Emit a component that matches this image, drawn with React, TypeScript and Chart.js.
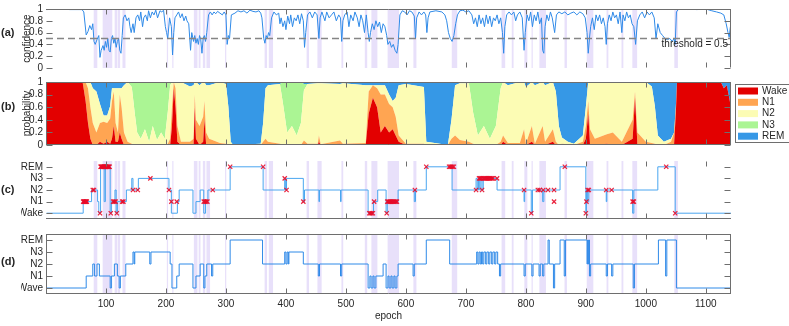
import React, { useEffect, useRef } from 'react';
import { Chart, registerables } from 'chart.js';

Chart.register(...registerables);

// ---------------- data ----------------
const X_MIN = 0;
const X_MAX = 1142;
const THRESHOLD = 0.5;
const xTickValues = [100, 200, 300, 400, 500, 600, 700, 800, 900, 1000, 1100];
const probTickValues = [0, 0.2, 0.4, 0.6, 0.8, 1];
const stageTickValues = [0, 1, 2, 3, 4];
const stageLabelsC = ['Wake', 'N1', 'N2', 'N3', 'REM'];
const stageLabelsD = ['Wave', 'N1', 'N2', 'N3', 'REM'];
const classNames = ['Wake', 'N1', 'N2', 'N3', 'REM'];

// low-confidence epoch intervals (shaded)
const uncertainStarts = [80, 95, 115, 120, 128, 202, 211, 247, 255, 262, 268, 299, 365, 372, 435, 453, 493, 532, 543, 570, 613, 677, 760, 777, 798, 810, 823, 865, 902, 935, 960, 978, 1048];
const uncertainEnds = [85, 110, 118, 123, 132, 203, 212, 252, 257, 265, 273, 300, 368, 378, 438, 459, 495, 535, 552, 588, 617, 685, 765, 779, 802, 811, 833, 868, 912, 937, 962, 985, 1053];

// (a) confidence
const confEpochs = [
  1, 20, 40, 60, 63, 67, 70, 73, 76, 78,
  80, 82, 85, 88, 90, 92, 95, 97, 99, 101,
  103, 105, 107, 109, 111, 113, 115, 117, 119, 121,
  123, 125, 127, 129, 132, 135, 138, 140, 142, 145,
  147, 150, 153, 156, 158, 161, 163, 166, 169, 171,
  174, 177, 180, 183, 186, 190, 193, 196, 199, 201,
  203, 206, 209, 211, 213, 215, 218, 221, 224, 227,
  230, 233, 235, 238, 241, 243, 246, 248, 250, 252,
  254, 256, 258, 260, 262, 264, 266, 268, 271, 274,
  277, 280, 283, 286, 290, 294, 297, 300, 302, 304,
  306, 309, 315, 320, 325, 330, 335, 340, 345, 350,
  355, 358, 360, 363, 365, 367, 369, 371, 373, 376,
  380, 384, 388, 390, 392, 395, 398, 400, 403, 406,
  408, 411, 414, 417, 420, 423, 426, 429, 431, 433,
  436, 440, 444, 448, 452, 455, 457, 460, 465, 468,
  472, 476, 480, 484, 488, 491, 493, 495, 498, 502,
  505, 508, 512, 515, 519, 522, 525, 528, 531, 534,
  537, 539, 541, 544, 547, 550, 553, 556, 559, 562,
  565, 568, 570, 573, 576, 579, 582, 585, 587, 590,
  594, 598, 602, 606, 610, 614, 616, 618, 622, 626,
  630, 633, 635, 637, 640, 650, 660, 665, 668, 671,
  674, 677, 680, 683, 686, 690, 695, 700, 705, 710,
  713, 716, 719, 722, 725, 728, 731, 734, 737, 740,
  743, 746, 749, 752, 755, 758, 761, 763, 765, 768,
  772, 776, 780, 783, 786, 790, 794, 797, 799, 802,
  805, 808, 811, 814, 817, 820, 823, 826, 828, 830,
  832, 835, 838, 841, 844, 848, 851, 855, 860, 865,
  870, 875, 880, 885, 890, 895, 899, 902, 904, 906,
  908, 911, 914, 917, 920, 923, 926, 929, 932, 934,
  936, 939, 942, 945, 948, 951, 954, 957, 960, 962,
  965, 968, 971, 974, 977, 980, 983, 986, 990, 994,
  998, 1002, 1006, 1010, 1014, 1017, 1020, 1024, 1028, 1032,
  1036, 1040, 1044, 1047, 1049, 1051, 1055, 1070, 1085, 1100,
  1110, 1118, 1125, 1130, 1134, 1137, 1139, 1141,
];
const confValues = [
  0.99, 1, 0.99, 0.99, 0.95, 0.56, 0.62, 0.72, 0.65, 0.75,
  0.45, 0.4, 0.48, 0.55, 0.18, 0.3, 0.38, 0.3, 0.45, 0.35,
  0.5, 0.3, 0.27, 0.5, 0.55, 0.42, 0.5, 0.35, 0.45, 0.5,
  0.3, 0.25, 0.55, 0.85, 0.9, 0.8, 0.85, 0.7, 0.6, 0.75,
  0.6, 0.85, 0.9, 0.8, 0.95, 0.7, 0.85, 0.9, 0.8, 0.97,
  0.85, 0.95, 0.9, 0.98, 0.85, 0.97, 0.95, 0.98, 0.7, 0.6,
  0.5, 0.85, 0.7, 0.22, 0.6, 0.85, 0.9, 0.95, 0.85, 0.92,
  0.8, 0.88, 0.8, 0.75, 0.3, 0.6, 0.45, 0.55, 0.42, 0.5,
  0.4, 0.55, 0.48, 0.25, 0.5, 0.55, 0.45, 0.6, 0.9, 0.95,
  0.9, 0.95, 0.92, 0.96, 0.93, 0.9, 0.95, 0.9, 0.4, 0.55,
  0.5, 0.9, 0.93, 0.97, 0.95, 0.97, 0.93, 0.98, 0.96, 0.95,
  0.97, 0.93, 0.85, 0.5, 0.42, 0.55, 0.5, 0.6, 0.55, 0.85,
  0.95, 0.9, 0.93, 0.75, 0.85, 0.7, 0.8, 0.65, 0.88, 0.75,
  0.9, 0.7, 0.85, 0.8, 0.9, 0.75, 0.92, 0.8, 0.35, 0.6,
  0.9, 0.95, 0.85, 0.95, 0.9, 0.5, 0.85, 0.95, 0.8, 0.95,
  0.85, 0.9, 0.95, 0.8, 0.9, 0.85, 0.45, 0.8, 0.9, 0.95,
  0.7, 0.9, 0.8, 0.95, 0.85, 0.7, 0.9, 0.8, 0.6, 0.9,
  0.6, 0.45, 0.6, 0.75, 0.65, 0.8, 0.7, 0.78, 0.6, 0.75,
  0.7, 0.55, 0.4, 0.45, 0.35, 0.4, 0.3, 0.25, 0.4, 0.9,
  0.97, 0.95, 0.9, 0.97, 0.95, 0.88, 0.5, 0.85, 0.95, 0.9,
  0.95, 0.9, 0.6, 0.85, 0.95, 0.97, 0.95, 0.9, 0.8, 0.6,
  0.5, 0.45, 0.55, 0.75, 0.9, 0.97, 0.98, 0.95, 0.97, 0.9,
  0.75, 0.85, 0.7, 0.9, 0.75, 0.85, 0.7, 0.9, 0.75, 0.88,
  0.7, 0.85, 0.8, 0.9, 0.75, 0.85, 0.6, 0.25, 0.7, 0.9,
  0.95, 0.9, 0.95, 0.8, 0.9, 0.95, 0.85, 0.3, 0.6, 0.9,
  0.8, 0.95, 0.7, 0.9, 0.8, 0.95, 0.75, 0.85, 0.3, 0.25,
  0.7, 0.9, 0.8, 0.95, 0.85, 0.6, 0.9, 0.95, 0.92, 0.95,
  0.9, 0.93, 0.95, 0.9, 0.95, 0.92, 0.85, 0.6, 0.25, 0.5,
  0.7, 0.85, 0.65, 0.9, 0.8, 0.9, 0.75, 0.85, 0.7, 0.4,
  0.75, 0.9, 0.8, 0.95, 0.85, 0.9, 0.75, 0.95, 0.6, 0.9,
  0.8, 0.95, 0.85, 0.9, 0.75, 0.7, 0.4, 0.8, 0.9, 0.95,
  0.85, 0.95, 0.9, 0.95, 0.85, 0.5, 0.75, 0.6, 0.55, 0.5,
  0.48, 0.5, 0.45, 0.5, 0.4, 0.95, 1, 1, 0.99, 1,
  0.97, 0.95, 0.93, 0.9, 0.75, 0.6, 0.52, 0.7,
];

// (b) class probabilities
const probEpochs = [
  0, 61, 66, 70, 74, 78, 84, 90, 96, 102,
  107, 110, 113, 116, 120, 123, 126, 130, 136, 143,
  148, 152, 158, 165, 172, 178, 185, 192, 198, 203,
  207, 210, 213, 216, 219, 225, 240, 246, 248, 250,
  256, 262, 264, 267, 272, 290, 300, 304, 308, 312,
  358, 362, 366, 370, 390, 396, 402, 410, 418, 425,
  430, 436, 453, 455, 458, 490, 495, 533, 538, 545,
  552, 558, 565, 572, 578, 583, 588, 600, 630, 634,
  670, 676, 682, 690, 705, 712, 720, 730, 740, 750,
  758, 762, 770, 790, 797, 800, 810, 815, 828, 832,
  845, 850, 855, 860, 870, 880, 895, 900, 904, 907,
  915, 935, 945, 960, 978, 982, 986, 1000, 1010, 1015,
  1020, 1030, 1042, 1047, 1050, 1052, 1125, 1130, 1135, 1142,
];
const probWake = [
  1, 1, 0.7, 0.35, 0.1, 0, 0, 0.05, 0.02, 0.05,
  0.02, 0.1, 0.3, 0.05, 0.05, 0.2, 0.1, 0, 0, 0,
  0, 0, 0, 0, 0, 0, 0, 0, 0, 0,
  0, 0.3, 0.9, 0.6, 0.05, 0, 0, 0, 0.6, 0.1,
  0, 0.05, 0.4, 0, 0, 0, 0, 0, 0, 0,
  0, 0, 0, 0, 0, 0, 0, 0, 0, 0,
  0.02, 0, 0, 0.05, 0, 0.02, 0, 0, 0.5, 0.75,
  0.6, 0.2, 0.3, 0.2, 0.25, 0.15, 0.05, 0, 0, 0,
  0, 0, 0, 0, 0, 0, 0, 0, 0, 0,
  0, 0.05, 0, 0, 0, 0, 0.05, 0, 0, 0,
  0.05, 0, 0, 0, 0, 0, 0, 0.1, 0.5, 0,
  0, 0.02, 0, 0, 0.1, 0.75, 0, 0, 0, 0,
  0, 0, 0, 0, 0.5, 1, 1, 0.9, 0.95, 0.6,
];
const probN1 = [
  0, 0, 0.3, 0.55, 0.5, 0.35, 0.2, 0.3, 0.35, 0.3,
  0.4, 0.6, 0.55, 0.3, 0.15, 0.6, 0.5, 0.2, 0.05, 0.02,
  0, 0, 0, 0, 0, 0, 0, 0, 0, 0.02,
  0.1, 0.3, 0.1, 0.3, 0.25, 0.05, 0.05, 0.1, 0.2, 0.3,
  0.3, 0.4, 0.3, 0.2, 0.1, 0.03, 0.02, 0.01, 0, 0,
  0, 0.05, 0.1, 0.05, 0.02, 0, 0, 0, 0, 0,
  0.05, 0.02, 0.02, 0.1, 0.01, 0.05, 0.02, 0.03, 0.35, 0.2,
  0.3, 0.6, 0.5, 0.45, 0.35, 0.3, 0.1, 0.02, 0.02, 0,
  0, 0.1, 0.15, 0.08, 0.05, 0.02, 0, 0, 0, 0,
  0.05, 0.1, 0.03, 0.03, 0.25, 0.02, 0.25, 0.02, 0.3, 0.05,
  0.2, 0.05, 0, 0.02, 0.01, 0, 0.05, 0.2, 0.2, 0.25,
  0.1, 0.15, 0.2, 0.05, 0.3, 0.1, 0.2, 0.05, 0.03, 0.02,
  0, 0, 0.05, 0.2, 0.1, 0, 0, 0, 0, 0,
];
const probN2 = [
  0, 0, 0, 0.1, 0.4, 0.55, 0.65, 0.3, 0.1, 0.12,
  0.2, 0.2, 0.05, 0.55, 0.7, 0.1, 0.3, 0.75, 0.95, 0.9,
  0.5, 0.2, 0.1, 0.25, 0.05, 0.3, 0.08, 0.2, 0.1, 0.5,
  0.85, 0.4, 0, 0.1, 0.7, 0.95, 0.88, 0.85, 0.2, 0.6,
  0.65, 0.55, 0.3, 0.75, 0.85, 0.97, 0.95, 0.6, 0.05, 0,
  0.02, 0.3, 0.8, 0.9, 0.95, 0.6, 0.2, 0.3, 0.15, 0.35,
  0.8, 0.95, 0.96, 0.83, 0.97, 0.9, 0.96, 0.92, 0.1, 0,
  0.05, 0.15, 0.15, 0.15, 0.1, 0.3, 0.8, 0.95, 0.9, 0.05,
  0, 0.3, 0.8, 0.9, 0.93, 0.5, 0.15, 0.3, 0.1, 0.3,
  0.85, 0.85, 0.92, 0.97, 0.75, 0.9, 0.7, 0.93, 0.7, 0.9,
  0.75, 0.8, 0.3, 0.1, 0.04, 0.02, 0.1, 0.3, 0.3, 0.75,
  0.9, 0.83, 0.8, 0.95, 0.6, 0.15, 0.8, 0.95, 0.9, 0.6,
  0.15, 0.05, 0.05, 0, 0, 0, 0, 0, 0, 0,
];
const probN3 = [
  0, 0, 0, 0, 0, 0, 0, 0, 0, 0,
  0, 0, 0, 0, 0, 0, 0, 0, 0, 0.08,
  0.5, 0.8, 0.9, 0.75, 0.95, 0.7, 0.92, 0.8, 0.9, 0.48,
  0.05, 0, 0, 0, 0, 0, 0, 0, 0, 0,
  0, 0, 0, 0, 0, 0, 0, 0, 0, 0,
  0, 0, 0, 0, 0, 0.4, 0.8, 0.7, 0.85, 0.65,
  0.1, 0, 0, 0, 0, 0, 0, 0, 0, 0,
  0, 0, 0, 0, 0, 0, 0, 0, 0, 0,
  0, 0, 0, 0, 0, 0.48, 0.85, 0.7, 0.9, 0.7,
  0.1, 0, 0, 0, 0, 0, 0, 0, 0, 0,
  0, 0, 0, 0, 0, 0, 0, 0, 0, 0,
  0, 0, 0, 0, 0, 0, 0, 0, 0, 0,
  0, 0, 0, 0, 0, 0, 0, 0, 0, 0,
];
const probREM = [
  0, 0, 0, 0, 0, 0.1, 0.15, 0.35, 0.53, 0.53,
  0.38, 0.1, 0.1, 0.1, 0.1, 0.1, 0.1, 0.05, 0, 0,
  0, 0, 0, 0, 0, 0, 0, 0, 0, 0,
  0, 0, 0, 0, 0, 0, 0.07, 0.05, 0, 0,
  0.05, 0, 0, 0.05, 0.05, 0, 0.03, 0.39, 0.95, 1,
  0.98, 0.65, 0.1, 0.05, 0.03, 0, 0, 0, 0, 0,
  0.03, 0.03, 0.02, 0.02, 0.02, 0.03, 0.02, 0.05, 0.05, 0.05,
  0.05, 0.05, 0.05, 0.2, 0.3, 0.25, 0.05, 0.03, 0.08, 0.95,
  1, 0.6, 0.05, 0.02, 0.02, 0, 0, 0, 0, 0,
  0, 0, 0.05, 0, 0, 0.08, 0, 0.05, 0, 0.05,
  0, 0.15, 0.7, 0.88, 0.95, 0.98, 0.85, 0.4, 0, 0,
  0, 0, 0, 0, 0, 0, 0, 0, 0.07, 0.38,
  0.85, 0.95, 0.9, 0.8, 0.4, 0, 0, 0.1, 0.05, 0.4,
];

// (c) predicted hypnogram: segment start epochs and stages (0 Wake .. 4 REM)
const cStarts = [
  1, 62, 76, 86, 88, 91, 97, 99, 107, 109,
  115, 117, 119, 134, 143, 145, 154, 205, 209, 219,
  222, 245, 250, 257, 263, 266, 270, 307, 362, 398,
  399, 401, 429, 431, 455, 456, 491, 492, 537, 546,
  553, 567, 569, 587, 614, 616, 634, 677, 717, 719,
  721, 723, 725, 727, 729, 752, 797, 798, 809, 811,
  828, 830, 857, 900, 901, 903, 905, 934, 935, 978,
  980, 1020, 1049,
];
const cStages = [
  0, 1, 2, 1, 0, 4, 1, 4, 0, 1,
  2, 0, 1, 2, 3, 2, 3, 2, 0, 1,
  2, 0, 1, 2, 0, 1, 2, 4, 2, 3,
  2, 3, 1, 2, 1, 2, 1, 2, 0, 1,
  2, 0, 1, 2, 1, 2, 4, 2, 3, 2,
  3, 2, 3, 2, 3, 2, 1, 2, 0, 2,
  1, 2, 4, 0, 2, 1, 2, 1, 2, 0,
  2, 4, 0,
];
// (c) mismatch markers
const cMarkEpochs = [
  62, 63, 64, 65, 66, 67, 68, 78, 80, 90,
  91, 92, 93, 94, 95, 96, 97, 98, 99, 100,
  101, 102, 103, 104, 105, 106, 108, 118, 112, 114,
  116, 127, 129, 145, 153, 174, 205, 209, 218, 263,
  265, 267, 269, 278, 307, 362, 398, 401, 429, 539,
  541, 543, 545, 547, 568, 569, 571, 573, 575, 577,
  579, 581, 583, 585, 615, 634, 672, 674, 676, 678,
  680, 717, 727, 722, 724, 726, 729, 731, 733, 735,
  737, 739, 741, 743, 745, 752, 797, 809, 820, 823,
  829, 837, 847, 847, 865, 900, 901, 903, 905, 934,
  943, 978, 980, 1034, 1049,
];
const cMarkStages = [
  1, 1, 1, 1, 1, 1, 1, 2, 2, 0,
  4, 4, 4, 4, 4, 4, 4, 4, 4, 4,
  4, 4, 4, 4, 4, 4, 0, 0, 1, 1,
  1, 1, 1, 2, 2, 3, 2, 1, 1, 1,
  1, 1, 1, 2, 4, 4, 3, 2, 1, 0,
  0, 0, 0, 1, 0, 1, 1, 1, 1, 1,
  1, 1, 1, 1, 2, 4, 4, 4, 4, 4,
  4, 2, 2, 3, 3, 3, 3, 3, 3, 3,
  3, 3, 3, 3, 3, 3, 2, 0, 2, 2,
  2, 2, 2, 1, 4, 0, 1, 2, 2, 2,
  2, 1, 1, 4, 0,
];

// (d) reference hypnogram
const dStarts = [
  1, 67, 78, 81, 85, 89, 107, 109, 114, 119,
  122, 124, 133, 145, 147, 148, 173, 175, 207, 210,
  218, 222, 245, 250, 257, 263, 265, 268, 276, 278,
  307, 361, 398, 400, 402, 404, 405, 429, 454, 456,
  491, 493, 537, 540, 542, 545, 547, 550, 562, 567,
  570, 572, 575, 577, 580, 582, 585, 587, 612, 614,
  634, 673, 718, 720, 722, 724, 726, 728, 730, 733,
  735, 738, 740, 743, 745, 748, 750, 753, 756, 758,
  797, 799, 810, 812, 822, 824, 828, 830, 837, 839,
  846, 848, 857, 864, 866, 902, 903, 904, 905, 906,
  908, 934, 936, 943, 945, 979, 981, 1021, 1033, 1035,
  1051,
];
const dStages = [
  0, 1, 2, 1, 2, 1, 0, 1, 2, 1,
  0, 1, 2, 3, 2, 3, 2, 3, 2, 0,
  1, 2, 0, 1, 2, 0, 1, 2, 1, 2,
  4, 2, 3, 2, 3, 2, 3, 2, 1, 2,
  1, 2, 0, 1, 0, 1, 0, 1, 2, 0,
  1, 0, 1, 0, 1, 0, 1, 2, 1, 2,
  4, 2, 3, 2, 3, 2, 3, 2, 3, 2,
  3, 2, 3, 2, 3, 2, 3, 2, 1, 2,
  1, 2, 1, 2, 1, 2, 1, 2, 4, 2,
  0, 2, 4, 1, 4, 2, 4, 2, 4, 1,
  2, 1, 2, 1, 2, 0, 2, 4, 1, 4,
  0,
];

// ---------------- styling / layout ----------------
const W = 789;
const H = 326;
const AREA_LEFT = 46;
const AREA_RIGHT = 731;
const PAD_LEFT = 21;
const FONT = "'Liberation Sans', Arial, Helvetica, sans-serif";
const TEXT = '#262626';
const AXIS = '#6e6e6e';
const BLUE = '#2f8ae8';
const BAND = 'rgba(165, 135, 235, 0.26)';
const MARK = 'rgba(232, 10, 40, 0.9)';
const classColors = ['#e30000', '#ffa552', '#fcfcb4', '#abf594', '#3698e6'];

type Frame = { top: boolean; right: boolean; bottom: boolean; left: boolean };
type DecorCfg = {
  letter: string;
  letterY: number;
  bands: boolean;
  frame: Frame;
  yTicks: number[];
  extra?: (chart: any) => void;
};

function makeDecor(cfg: DecorCfg) {
  return {
    id: 'decor',
    beforeDatasetsDraw(chart: any) {
      if (!cfg.bands) return;
      const { ctx, chartArea: a, scales } = chart;
      const x = scales.x;
      ctx.save();
      ctx.beginPath();
      ctx.rect(a.left, a.top, a.right - a.left, a.bottom - a.top);
      ctx.clip();
      ctx.fillStyle = BAND;
      uncertainStarts.forEach((s, i) => {
        const x0 = x.getPixelForValue(s - 0.5);
        const x1 = x.getPixelForValue(uncertainEnds[i] + 0.5);
        ctx.fillRect(x0, a.top, Math.max(x1 - x0, 1), a.bottom - a.top);
      });
      ctx.restore();
    },
    afterDatasetsDraw(chart: any) {
      const { ctx, chartArea: a, scales } = chart;
      const x = scales.x;
      const y = scales.y;
      const L = Math.round(a.left) + 0.5;
      const R = Math.round(a.right) - 0.5;
      const T = Math.round(a.top) + 0.5;
      const B = Math.round(a.bottom) - 0.5;
      ctx.save();
      ctx.strokeStyle = AXIS;
      ctx.lineWidth = 1;
      ctx.beginPath();
      if (cfg.frame.top) { ctx.moveTo(L - 0.5, T); ctx.lineTo(R + 0.5, T); }
      if (cfg.frame.bottom) { ctx.moveTo(L - 0.5, B); ctx.lineTo(R + 0.5, B); }
      if (cfg.frame.left) { ctx.moveTo(L, T); ctx.lineTo(L, B); }
      if (cfg.frame.right) { ctx.moveTo(R, T); ctx.lineTo(R, B); }
      for (const v of xTickValues) {
        const px = Math.round(x.getPixelForValue(v)) + 0.5;
        ctx.moveTo(px, B); ctx.lineTo(px, B - 5);
        ctx.moveTo(px, T); ctx.lineTo(px, T + 5);
      }
      for (const v of cfg.yTicks) {
        const py = Math.round(y.getPixelForValue(v)) + 0.5;
        ctx.moveTo(L, py); ctx.lineTo(L + 6, py);
        ctx.moveTo(R, py); ctx.lineTo(R - 6, py);
      }
      ctx.stroke();
      ctx.fillStyle = TEXT;
      ctx.font = `bold 11px ${FONT}`;
      ctx.textAlign = 'left';
      ctx.textBaseline = 'middle';
      ctx.fillText(cfg.letter, 1, cfg.letterY);
      if (cfg.extra) cfg.extra(chart);
      ctx.restore();
    },
  };
}

const tickFont = { family: FONT, size: 10 };

function xScale(bottom: number, visible: boolean) {
  const s: any = {
    type: 'linear',
    min: X_MIN,
    max: X_MAX,
    display: visible,
    grid: { display: false, drawTicks: false },
    border: { display: false },
    afterBuildTicks: (sc: any) => { sc.ticks = xTickValues.map((v) => ({ value: v })); },
    ticks: { color: TEXT, font: tickFont, padding: 4, maxRotation: 0, autoSkip: false, callback: (v: any) => String(v) },
    title: { display: visible, text: 'epoch', color: TEXT, font: tickFont, padding: { top: 0, bottom: 4 } },
  };
  if (visible) s.afterFit = (sc: any) => { sc.height = H - bottom; };
  return s;
}

function yProbScale(title: string, stacked: boolean) {
  return {
    type: 'linear',
    min: 0,
    max: 1,
    stacked,
    grid: { display: false, drawTicks: false },
    border: { display: false },
    afterBuildTicks: (sc: any) => { sc.ticks = probTickValues.map((v) => ({ value: v })); },
    afterFit: (sc: any) => { sc.width = AREA_LEFT - PAD_LEFT; },
    ticks: { color: TEXT, font: tickFont, padding: 3, autoSkip: false, callback: (v: any) => String(v) },
    title: { display: true, text: title, color: TEXT, font: tickFont, padding: 0 },
  };
}

function yStageScale(labels: string[]) {
  return {
    type: 'linear',
    min: -0.5,
    max: 4.5,
    grid: { display: false, drawTicks: false },
    border: { display: false },
    afterBuildTicks: (sc: any) => { sc.ticks = stageTickValues.map((v) => ({ value: v })); },
    afterFit: (sc: any) => { sc.width = AREA_LEFT - PAD_LEFT; },
    ticks: { color: TEXT, font: tickFont, padding: 3, autoSkip: false, callback: (v: any) => labels[v] ?? '' },
  };
}

function baseOptions(top: number, bottom: number, y: any, xVisible: boolean) {
  return {
    responsive: false,
    animation: false,
    devicePixelRatio: 1,
    events: [],
    layout: { padding: { left: PAD_LEFT, right: W - AREA_RIGHT, top, bottom: xVisible ? 0 : H - bottom } },
    plugins: { legend: { display: false }, tooltip: { enabled: false } },
    scales: { x: xScale(bottom, xVisible), y },
  };
}

function stepPoints(starts: number[], stages: number[]) {
  const pts = starts.map((s, i) => ({ x: s, y: stages[i] }));
  pts.push({ x: X_MAX, y: stages[stages.length - 1] });
  return pts;
}

function buildA(): any {
  return {
    type: 'line',
    data: {
      datasets: [
        {
          data: [{ x: X_MIN, y: THRESHOLD }, { x: X_MAX, y: THRESHOLD }],
          borderColor: '#858585', borderWidth: 1.6, borderDash: [7, 4], pointRadius: 0,
        },
        {
          data: confEpochs.map((e, i) => ({ x: e, y: confValues[i] })),
          borderColor: BLUE, borderWidth: 1, pointRadius: 0, tension: 0,
        },
      ],
    },
    options: baseOptions(7, 68, yProbScale('confidence', false), false),
    plugins: [makeDecor({
      letter: '(a)', letterY: 33, bands: true,
      frame: { top: true, right: true, bottom: false, left: false },
      yTicks: probTickValues,
      extra: (chart: any) => {
        const { ctx } = chart;
        ctx.fillStyle = TEXT;
        ctx.font = `10px ${FONT}`;
        ctx.textAlign = 'right';
        ctx.textBaseline = 'middle';
        ctx.fillText('threshold = 0.5', 728, 44);
      },
    })],
  };
}

function buildB(): any {
  const series = [probWake, probN1, probN2, probN3, probREM];
  return {
    type: 'line',
    data: {
      datasets: series.map((arr, k) => ({
        label: classNames[k],
        data: probEpochs.map((e, i) => ({ x: e, y: arr[i] })),
        backgroundColor: classColors[k],
        borderColor: classColors[k],
        borderWidth: 0,
        pointRadius: 0,
        tension: 0,
        fill: k === 0 ? 'origin' : '-1',
      })),
    },
    options: baseOptions(82, 145, yProbScale('probability', true), false),
    plugins: [makeDecor({
      letter: '(b)', letterY: 107, bands: false,
      frame: { top: true, right: true, bottom: true, left: true },
      yTicks: probTickValues,
      extra: (chart: any) => {
        const { ctx } = chart;
        ctx.strokeStyle = AXIS;
        ctx.lineWidth = 1;
        ctx.strokeRect(735.5, 84.5, 70, 58);
        ctx.font = `10px ${FONT}`;
        ctx.textAlign = 'left';
        ctx.textBaseline = 'middle';
        classNames.forEach((n, i) => {
          const cy = 91 + i * 11.3;
          ctx.fillStyle = classColors[i];
          ctx.fillRect(738, cy - 3.5, 20, 7);
          ctx.fillStyle = TEXT;
          ctx.fillText(n, 762, cy);
        });
      },
    })],
  };
}

function buildC(): any {
  return {
    type: 'line',
    data: {
      datasets: [
        {
          data: cMarkEpochs.map((e, i) => ({ x: e, y: cMarkStages[i] })),
          showLine: false, pointStyle: 'crossRot', pointRadius: 3,
          borderColor: MARK, backgroundColor: MARK, pointBorderWidth: 1.2,
        },
        {
          data: stepPoints(cStarts, cStages),
          stepped: true, borderColor: '#4aa6f0', borderWidth: 1, pointRadius: 0,
        },
      ],
    },
    options: baseOptions(161, 219, yStageScale(stageLabelsC), false),
    plugins: [makeDecor({
      letter: '(c)', letterY: 190, bands: true,
      frame: { top: false, right: false, bottom: true, left: false },
      yTicks: stageTickValues,
    })],
  };
}

function buildD(): any {
  return {
    type: 'line',
    data: {
      datasets: [
        {
          data: stepPoints(dStarts, dStages),
          stepped: true, borderColor: BLUE, borderWidth: 1, pointRadius: 0,
        },
      ],
    },
    options: baseOptions(234, 294, yStageScale(stageLabelsD), true),
    plugins: [makeDecor({
      letter: '(d)', letterY: 262, bands: true,
      frame: { top: true, right: true, bottom: true, left: true },
      yTicks: stageTickValues,
    })],
  };
}

function Layer({ build }: { build: () => any }) {
  const ref = useRef<HTMLCanvasElement>(null);
  useEffect(() => {
    const chart = new Chart(ref.current as HTMLCanvasElement, build());
    return () => chart.destroy();
  }, [build]);
  return (
    <canvas
      ref={ref}
      width={W}
      height={H}
      style={{ position: 'absolute', left: 0, top: 0, width: W, height: H }}
    />
  );
}

export default function App() {
  return (
    <div style={{ position: 'absolute', left: 0, top: 0, width: W, height: H, background: '#ffffff', overflow: 'hidden' }}>
      <Layer build={buildA} />
      <Layer build={buildB} />
      <Layer build={buildC} />
      <Layer build={buildD} />
    </div>
  );
}
